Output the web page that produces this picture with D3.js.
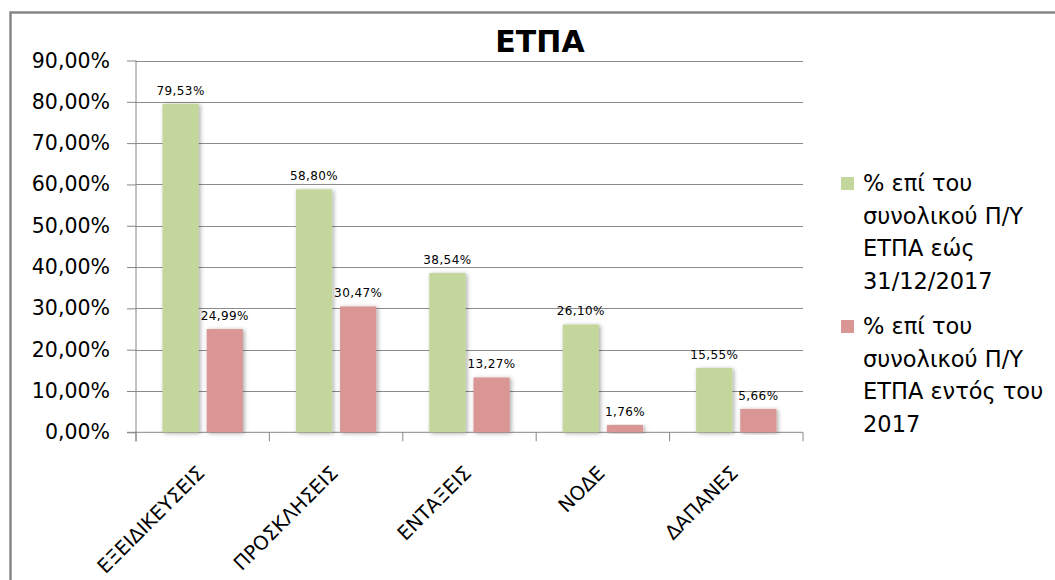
<!DOCTYPE html>
<html>
<head>
<meta charset="utf-8">
<script src="https://cdn.jsdelivr.net/npm/d3@7"></script>
<style>
  body { margin: 0; background: #fff; }
  text { font-family: "DejaVu Sans", sans-serif; fill: #000; }
</style>
</head>
<body>
<div id="chart"></div>
<script>
// data
const categories = ["ΕΞΕΙΔΙΚΕΥΣΕΙΣ", "ΠΡΟΣΚΛΗΣΕΙΣ", "ΕΝΤΑΞΕΙΣ", "ΝΟΔΕ", "ΔΑΠΑΝΕΣ"];
const seriesNames = ["total", "year"];
const totalValues = [79.53, 58.80, 38.54, 26.10, 15.55];
const yearValues = [24.99, 30.47, 13.27, 1.76, 5.66];
const yTicks = [0, 10, 20, 30, 40, 50, 60, 70, 80, 90];
const legendLines = [
  ["% επί του", "συνολικού Π/Υ", "ΕΤΠΑ εώς", "31/12/2017"],
  ["% επί του", "συνολικού Π/Υ", "ΕΤΠΑ εντός του", "2017"]
];
const colors = {total: "#c3d69b", year: "#d99694"};

const W = 1055, H = 580;
const plot = {left: 136, right: 803, top: 60.5, bottom: 432.3};

const svg = d3.select("#chart").append("svg")
  .attr("width", W).attr("height", H);

const defs = svg.append("defs");
const f = defs.append("filter").attr("id", "shadow")
  .attr("x", "-30%").attr("y", "-10%").attr("width", "160%").attr("height", "120%");
f.append("feDropShadow").attr("dx", 1.5).attr("dy", 1).attr("stdDeviation", 2)
  .attr("flood-color", "#000").attr("flood-opacity", 0.35);

// outer frame (only left and top are visible)
svg.append("path")
  .attr("d", "M10.5," + H + " V12.5 H" + W)
  .attr("fill", "none").attr("stroke", "#878787").attr("stroke-width", 2.5);

const x = d3.scaleBand().domain(categories).range([plot.left, plot.right]).padding(0);
const x1 = d3.scaleBand().domain(seriesNames).range([0, x.bandwidth()])
  .paddingInner(0.18).paddingOuter(0.6);
const y = d3.scaleLinear().domain([0, 90]).range([plot.bottom, plot.top]);

// gridlines + y axis
const yAxis = d3.axisLeft(y).tickValues(yTicks).tickSize(9)
  .tickFormat(d => d3.format(".2f")(d).replace(".", ",") + "%");
const gy = svg.append("g").attr("transform", "translate(" + plot.left + ",0)").call(yAxis);
gy.select(".domain").attr("stroke", "#868686").attr("d", "M0," + y(90) + "V" + (plot.bottom + 9));
gy.selectAll(".tick line").attr("stroke", "#868686");
gy.selectAll(".tick text").attr("x", -26).attr("font-size", 20.5).attr("fill", "#000")
  .attr("font-family", "DejaVu Sans");

svg.append("g").selectAll("line").data(yTicks.filter(d => d > 0)).join("line")
  .attr("x1", plot.left).attr("x2", plot.right)
  .attr("y1", d => Math.round(y(d)) + 0.5).attr("y2", d => Math.round(y(d)) + 0.5)
  .attr("stroke", "#8c8c8c");

// x axis
svg.append("line").attr("x1", plot.left - 9).attr("x2", plot.right)
  .attr("y1", plot.bottom).attr("y2", plot.bottom).attr("stroke", "#868686");
svg.append("g").selectAll("line").data(categories.concat(["end"])).join("line")
  .attr("x1", (d, i) => plot.left + i * x.step()).attr("x2", (d, i) => plot.left + i * x.step())
  .attr("y1", plot.bottom).attr("y2", plot.bottom + 9).attr("stroke", "#868686");

// labels sit at -45deg, ending near each category's centre
svg.append("g").selectAll("text").data(categories).join("text")
  .attr("transform", d => "translate(" + (x(d) + x.bandwidth() / 2 + 3) + "," + (plot.bottom + 42) + ") rotate(-45)")
  .attr("text-anchor", "end").attr("font-size", 19.5)
  .text(d => d);

// bars
const rows = categories.map((c, i) => ({cat: c, total: totalValues[i], year: yearValues[i]}));
const groups = svg.append("g").selectAll("g").data(rows).join("g")
  .attr("transform", d => "translate(" + x(d.cat) + ",0)");

groups.selectAll("rect").data(d => seriesNames.map(k => ({key: k, value: d[k]}))).join("rect")
  .attr("x", d => x1(d.key)).attr("width", x1.bandwidth())
  .attr("y", d => y(d.value)).attr("height", d => y(0) - y(d.value))
  .attr("fill", d => colors[d.key]).attr("filter", "url(#shadow)");

groups.selectAll("text").data(d => seriesNames.map(k => ({key: k, value: d[k]}))).join("text")
  .attr("x", d => x1(d.key) + x1.bandwidth() / 2).attr("y", d => y(d.value) - 9)
  .attr("text-anchor", "middle").attr("font-size", 12).attr("letter-spacing", 0.4)
  .text(d => d3.format(".2f")(d.value).replace(".", ",") + "%");

// title
svg.append("text").attr("x", 540).attr("y", 52).attr("text-anchor", "middle")
  .attr("font-family", "Liberation Sans").attr("font-weight", "bold").attr("font-size", 30)
  .text("ΕΤΠΑ");

// legend
const legend = svg.append("g");
const lg = legend.selectAll("g").data(seriesNames).join("g")
  .attr("transform", (d, i) => "translate(841," + (177 + i * 143) + ")");
lg.append("rect").attr("width", 13).attr("height", 13).attr("fill", d => colors[d]);
lg.append("text").attr("font-size", 22.5)
  .selectAll("tspan").data((d, i) => legendLines[i]).join("tspan")
  .attr("x", 22).attr("y", (d, i) => 14 + i * 32.5)
  .text(d => d);
</script>
</body>
</html>
